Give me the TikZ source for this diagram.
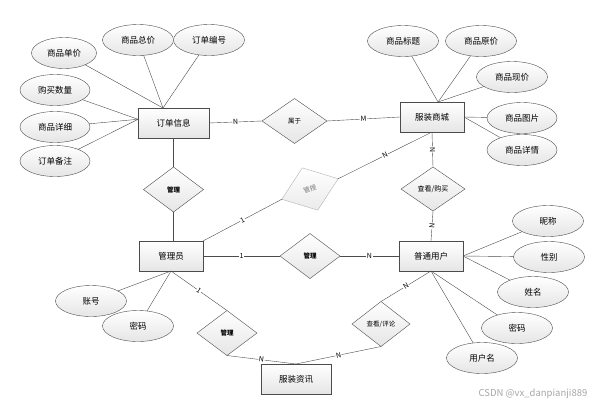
\documentclass[tikz,border=0pt]{standalone}
\usepackage{fontspec}
\setmainfont{Noto Sans CJK SC}
\usetikzlibrary{shapes,shadows}

\begin{document}
\begin{tikzpicture}[x=1pt,y=-1pt,
      every node/.style={font=\fontsize{8.5}{10}\selectfont,outer sep=0pt},
      entity/.style={rectangle,draw=black!70,top color=white,bottom color=black!10,
        minimum width=64pt,minimum height=30pt,
        drop shadow={opacity=.2,shadow xshift=1pt,shadow yshift=-1pt}},
      attr/.style={ellipse,draw=black!70,top color=white,bottom color=black!10,
        minimum width=71pt,minimum height=31pt,inner sep=0pt},
      rel/.style={diamond,draw=black!70,top color=white,bottom color=black!10,
        minimum width=60pt,minimum height=45pt,inner sep=0pt,font=\fontsize{6.5}{8}\selectfont},
      faint/.style={draw=black!30,bottom color=black!8,text=black!55},
      lbl/.style={fill=white,inner sep=0.6pt,sloped,font=\fontsize{7}{8}\selectfont},
      link/.style={draw=black!70}]
      \useasboundingbox (0,0) rectangle (602,405);
      \node[entity,minimum width=71pt] (dd) at (173.5,123) {订单信息};
      \node[entity] (sc) at (432,117) {服装商城};
      \node[entity] (gl) at (171,256) {管理员};
      \node[entity] (pt) at (431,256) {普通用户};
      \node[entity,minimum width=70pt] (zx) at (296,379) {服装资讯};

      \node[attr,minimum width=65pt] (spdj) at (64,53) {商品单价};
      \node[attr] (spzj) at (138,40) {商品总价};
      \node[attr] (ddbh) at (209,40) {订单编号};
      \node[attr,minimum width=70pt] (gmsl) at (55,90) {购买数量};
      \node[attr,minimum width=70pt] (spxx) at (55,127) {商品详细};
      \node[attr,minimum width=70pt] (ddbz) at (55,161) {订单备注};
      \node[attr] (spbt) at (403,41) {商品标题};
      \node[attr] (spyj) at (481,41) {商品原价};
      \node[attr] (spxj) at (512,77) {商品现价};
      \node[attr,minimum width=70pt] (sptp) at (522,118) {商品图片};
      \node[attr,minimum width=70pt] (spxq) at (522,150) {商品详情};
      \node[attr] (nc) at (548,221) {昵称};
      \node[attr] (xb) at (549,257) {性别};
      \node[attr] (xm) at (533,292) {姓名};
      \node[attr] (yhmm) at (517,328) {密码};
      \node[attr] (yhm) at (482,358) {用户名};
      \node[attr] (zh) at (91,301) {账号};
      \node[attr] (glmm) at (138,326) {密码};

      \node[rel,minimum width=65pt] (sy) at (294.5,121) {属于};
      \node[rel,font=\fontsize{6.5}{8}\selectfont\bfseries] (gla) at (173.5,189.5) {管理};
      \node[rel,faint,rotate=20] (gs) at (310,189) {管授};
      \node[rel,font=\fontsize{6.5}{8}\selectfont\bfseries] (glb) at (310,256) {管理};
      \node[rel,minimum width=64pt,minimum height=44pt,font=\fontsize{7}{8}\selectfont] (ck) at (433,189) {查看/购买};
      \node[rel,font=\fontsize{6.5}{8}\selectfont\bfseries] (glc) at (227,333) {管理};
      \node[rel,minimum width=58pt] (pl) at (381,324) {查看/评论};

      \foreach \a in {spdj,spzj,ddbh} \draw[link] (\a) -- (dd.125);
      \foreach \a in {gmsl,spxx,ddbz} \draw[link] (\a) -- (dd.174);
      \foreach \a in {spbt,spyj,spxj} \draw[link] (\a) -- (sc.68);
      \foreach \a in {sptp,spxq} \draw[link] (\a) -- (sc.east);
      \foreach \a in {nc,xb,xm} \draw[link] (\a) -- (pt.east);
      \foreach \a in {yhmm,yhm} \draw[link] (\a) -- (pt.south);
      \foreach \a in {zh,glmm} \draw[link] (\a) -- (gl.south);

      \draw[link] (dd.east) -- node[lbl]{N} (sy.west);
      \draw[link] (sy.east) -- node[lbl]{M} (sc.west);
      \draw[link] (dd.south) -- (gla.north);
      \draw[link] (gla.south) -- (gla.south |- gl.north);
      \draw[link] (gl.north east) -- node[lbl]{1} (gs.west);
      \draw[link] (gs.east) -- node[lbl]{N} (sc.south);
      \draw[link] (gl.east) -- node[lbl]{1} (glb.west);
      \draw[link] (glb.east) -- node[lbl]{N} (pt.west);
      \draw[link] (sc.south) -- node[lbl]{N} (ck.north);
      \draw[link] (ck.south) -- node[lbl]{N} (pt.north);
      \draw[link] (gl.south) -- node[lbl]{1} (glc.north);
      \draw[link] (glc.south) -- node[lbl]{N} (zx.north);
      \draw[link] (pt.south) -- node[lbl]{N} (pl.north);
      \draw[link] (pl.south) -- node[lbl]{N} (zx.north);

      \node[text=black!35,font=\fontsize{9.5}{11}\selectfont] (wm) at (533,394) {CSDN @vx\_danpianji889};
\end{tikzpicture}
\end{document}
